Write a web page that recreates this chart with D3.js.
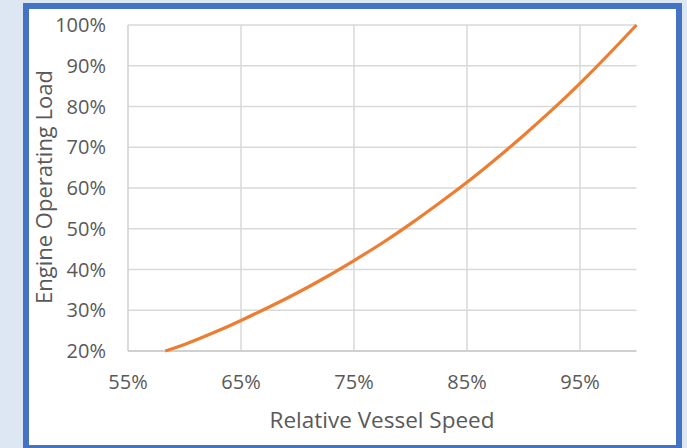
<!DOCTYPE html>
<html>
<head>
<meta charset="utf-8">
<script src="https://cdn.jsdelivr.net/npm/d3@7"></script>
<style>
  html, body { margin: 0; padding: 0; background: #dde7f3; }
  svg { display: block; }
</style>
</head>
<body>
<div id="viz"></div>
<script>
// values
var speedPct = [58.3, 60, 62.5, 65, 67.5, 70, 72.5, 75, 77.5, 80, 82.5, 85, 87.5, 90, 92.5, 95, 97.5, 100];
var loadPct  = [20, 21.6, 24.4, 27.5, 30.8, 34.3, 38.1, 42.2, 46.5, 51.2, 56.2, 61.4, 67.0, 72.9, 79.1, 85.7, 92.7, 100];

var xTicks = [55, 65, 75, 85, 95];
var yTicks = [20, 30, 40, 50, 60, 70, 80, 90, 100];

var w = 687, h = 448;
var font = "'Open Sans', 'Noto Sans', sans-serif";
var txtCol = '#595959';

var svg = d3.select('#viz')
            .append('svg')
            .attr('width', w)
            .attr('height', h)

// panel
svg.append('rect')
  .attr('x', 26).attr('y', 6)
  .attr('width', 653).attr('height', 442)
  .attr('fill', 'white')
  .attr('stroke', '#4472c4')
  .attr('stroke-width', 6)

var x = d3.scaleLinear().domain([55, 100]).range([128, 636.5])
var y = d3.scaleLinear().domain([20, 100]).range([351, 25])

// grid
svg.append('g')
  .selectAll('line')
  .data(yTicks.slice(1))
  .enter()
  .append('line')
  .attr('x1', x(55)).attr('x2', x(100))
  .attr('y1', d => y(d)).attr('y2', d => y(d))
  .attr('stroke', '#d9d9d9')
  .attr('stroke-width', 1.5)

svg.append('g')
  .selectAll('line')
  .data(xTicks.slice(1))
  .enter()
  .append('line')
  .attr('x1', d => x(d)).attr('x2', d => x(d))
  .attr('y1', y(20)).attr('y2', y(100))
  .attr('stroke', '#d9d9d9')
  .attr('stroke-width', 1.5)

// axes lines
svg.append('line')
  .attr('x1', x(55)).attr('x2', x(55))
  .attr('y1', y(20)).attr('y2', y(100))
  .attr('stroke', '#d0d0d0').attr('stroke-width', 1.5)
svg.append('line')
  .attr('x1', x(55)).attr('x2', x(100))
  .attr('y1', y(20)).attr('y2', y(20))
  .attr('stroke', '#d0d0d0').attr('stroke-width', 2)

// tick labels
svg.append('g')
  .selectAll('text')
  .data(yTicks)
  .enter()
  .append('text')
  .attr('x', 106)
  .attr('y', d => y(d))
  .attr('dy', '0.36em')
  .attr('text-anchor', 'end')
  .attr('font-family', font)
  .attr('font-size', 20)
  .attr('fill', txtCol)
  .text(d => d + '%')

svg.append('g')
  .selectAll('text')
  .data(xTicks)
  .enter()
  .append('text')
  .attr('x', d => x(d))
  .attr('y', 389)
  .attr('text-anchor', 'middle')
  .attr('font-family', font)
  .attr('font-size', 20)
  .attr('fill', txtCol)
  .text(d => d + '%')

// axis titles
svg.append('text')
  .attr('x', 382).attr('y', 428)
  .attr('text-anchor', 'middle')
  .attr('font-family', font)
  .attr('font-size', 22.5)
  .attr('fill', txtCol)
  .text('Relative Vessel Speed')

svg.append('text')
  .attr('transform', 'translate(52,187) rotate(-90)')
  .attr('text-anchor', 'middle')
  .attr('font-family', font)
  .attr('font-size', 22)
  .attr('fill', txtCol)
  .text('Engine Operating Load')

// curve
var pts = speedPct.map((s, i) => [s, loadPct[i]])
svg.append('path')
  .datum(pts)
  .attr('fill', 'none')
  .attr('stroke', '#ed7d31')
  .attr('stroke-width', 3.2)
  .attr('d', d3.line().x(d => x(d[0])).y(d => y(d[1])).curve(d3.curveNatural))
</script>
</body>
</html>
